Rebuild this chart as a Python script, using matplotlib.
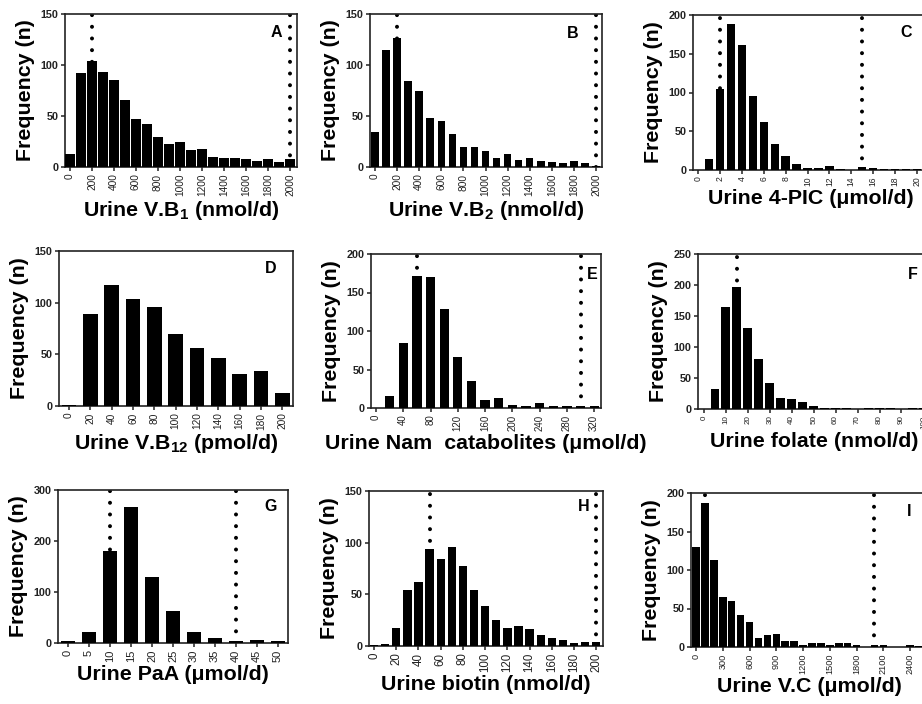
import matplotlib
matplotlib.use('Agg')
import matplotlib.pyplot as plt

plt.rcParams['font.family'] = ['Liberation Sans', 'DejaVu Sans']
plt.rcParams['mathtext.fontset'] = 'custom'
plt.rcParams['mathtext.rm'] = 'Liberation Sans'
plt.rcParams['mathtext.bf'] = 'Liberation Sans:bold'
plt.rcParams['mathtext.it'] = 'Liberation Sans:italic'

# ---------------- data ----------------
a_bins = [0, 100, 200, 300, 400, 500, 600, 700, 800, 900, 1000, 1100, 1200, 1300, 1400, 1500, 1600, 1700, 1800, 1900, 2000]
a_counts = [13, 92, 104, 93, 85, 66, 47, 42, 29, 23, 25, 17, 18, 10, 9, 9, 8, 6, 8, 5, 8]
a_ticks = [0, 200, 400, 600, 800, 1000, 1200, 1400, 1600, 1800, 2000]

b_bins = a_bins
b_counts = [34, 115, 126, 84, 75, 48, 45, 32, 20, 20, 16, 9, 13, 7, 9, 6, 5, 4, 6, 4, 1]
b_ticks = a_ticks

c_bins = [0, 1, 2, 3, 4, 5, 6, 7, 8, 9, 10, 11, 12, 13, 14, 15, 16, 17, 18, 19, 20]
c_counts = [0, 14, 104, 189, 161, 95, 62, 33, 18, 8, 2, 3, 5, 1, 0, 4, 2, 1, 1, 1, 1]
c_ticks = [0, 2, 4, 6, 8, 10, 12, 14, 16, 18, 20]

d_bins = [0, 20, 40, 60, 80, 100, 120, 140, 160, 180, 200]
d_counts = [1, 89, 117, 104, 96, 70, 56, 46, 31, 34, 13]
d_ticks = d_bins

e_bins = [0, 20, 40, 60, 80, 100, 120, 140, 160, 180, 200, 220, 240, 260, 280, 300, 320]
e_counts = [0, 16, 84, 171, 170, 129, 66, 35, 10, 13, 4, 3, 6, 3, 2, 2, 3]
e_ticks = [0, 40, 80, 120, 160, 200, 240, 280, 320]

f_bins = [0, 5, 10, 15, 20, 25, 30, 35, 40, 45, 50, 55, 60, 65, 70, 75, 80, 85, 90, 95, 100]
f_counts = [0, 32, 165, 196, 130, 81, 42, 18, 16, 11, 5, 1, 1, 1, 0, 1, 1, 1, 0, 1, 1]
f_ticks = [0, 10, 20, 30, 40, 50, 60, 70, 80, 90, 100]

g_bins = [0, 5, 10, 15, 20, 25, 30, 35, 40, 45, 50]
g_counts = [3, 22, 180, 267, 129, 62, 22, 9, 3, 5, 3]
g_ticks = g_bins

h_bins = [0, 10, 20, 30, 40, 50, 60, 70, 80, 90, 100, 110, 120, 130, 140, 150, 160, 170, 180, 190, 200]
h_counts = [1, 2, 17, 54, 62, 94, 84, 96, 77, 54, 39, 25, 17, 19, 16, 11, 8, 6, 3, 4, 4]
h_ticks = [0, 20, 40, 60, 80, 100, 120, 140, 160, 180, 200]

i_bins = [0, 100, 200, 300, 400, 500, 600, 700, 800, 900, 1000, 1100, 1200, 1300, 1400, 1500, 1600, 1700, 1800, 1900, 2000, 2100, 2200, 2300, 2400, 2500]
i_counts = [130, 187, 113, 65, 60, 42, 32, 12, 16, 17, 8, 8, 2, 5, 5, 3, 5, 5, 3, 0, 2, 2, 0, 0, 2, 1]
i_ticks = [0, 300, 600, 900, 1200, 1500, 1800, 2100, 2400]

letters = ['A', 'B', 'C', 'D', 'E', 'F', 'G', 'H', 'I']
xlabels = [r'Urine V.B$_\mathbf{1}$ (nmol/d)',
           r'Urine V.B$_\mathbf{2}$ (nmol/d)',
           'Urine 4-PIC (\u03bcmol/d)',
           r'Urine V.B$_\mathbf{12}$ (pmol/d)',
           'Urine Nam  catabolites (\u03bcmol/d)',
           'Urine folate (nmol/d)',
           'Urine PaA (\u03bcmol/d)',
           'Urine biotin (nmol/d)',
           'Urine V.C (\u03bcmol/d)']
cutoffs = [[200, 2000], [200, 2000], [2, 15], [], [60, 300], [15, 100], [10, 40], [50, 200], [100, 2000]]

# ---------------- layout (pixels) ----------------
W, H = 922, 704
panels = [
    # bins, counts, ticks, step, bar fraction, (left, top, right, bottom px), xlim, ymax, ystep, xtick fs, letter pos
    (a_bins, a_counts, a_ticks, 100, 0.86, (65, 14, 297, 167), (-45, 2064), 150, 50, 7.3, (0.935, 0.88)),
    (b_bins, b_counts, b_ticks, 100, 0.68, (370, 14, 602, 167), (-45, 2054), 150, 50, 7.3, (0.897, 0.875)),
    (c_bins, c_counts, c_ticks, 1, 0.76, (693, 15, 928, 170), (-0.46, 21.0), 200, 50, 6.2, (0.93, 0.89)),
    (d_bins, d_counts, d_ticks, 20, 0.68, (59, 251, 293, 406), (-9.4, 210), 150, 50, 7.3, (0.93, 0.884)),
    (e_bins, e_counts, e_ticks, 20, 0.68, (371, 254, 601, 408), (-7.3, 330), 200, 50, 7.0, (0.985, 0.864)),
    (f_bins, f_counts, f_ticks, 5, 0.8, (698, 254, 930, 409), (-2.7, 103), 250, 50, 5.8, (0.948, 0.865)),
    (g_bins, g_counts, g_ticks, 5, 0.68, (58, 490, 288, 643), (-2.4, 52.4), 300, 100, 8.0, (0.952, 0.89)),
    (h_bins, h_counts, h_ticks, 10, 0.75, (369, 491, 603, 646), (-4.5, 206), 150, 50, 8.3, (0.944, 0.9)),
    (i_bins, i_counts, i_ticks, 100, 0.85, (691, 493, 928, 647), (-56, 2600), 200, 50, 6.6, (0.93, 0.88)),
]

fig = plt.figure(figsize=(W / 100, H / 100), dpi=100)
fig.patch.set_facecolor('white')

for k, (bins, counts, ticks, step, frac, box, xlim, ymax, ystep, xfs, lpos) in enumerate(panels):
    l, t, r, b = box
    ax = fig.add_axes([l / W, 1 - b / H, (r - l) / W, (b - t) / H])
    ax.bar(bins, counts, width=step * frac, color='black', edgecolor='none', zorder=3)
    for c in cutoffs[k]:
        ax.axvline(c, 0, 1, color='black', lw=2.9, linestyle=(0, (0.001, 2.9)),
                   dash_capstyle='round', zorder=2)
    ax.set_xlim(*xlim)
    ax.set_ylim(0, ymax)
    ax.set_yticks(list(range(0, ymax + 1, ystep)))
    ax.set_xticks(ticks)
    ax.set_xticklabels([str(v) for v in ticks], rotation=90, fontsize=xfs, color='#222222')
    for lab in ax.get_yticklabels():
        lab.set_fontsize(7.8)
        lab.set_fontweight('bold')
        lab.set_color('#222222')
    ax.tick_params(axis='both', direction='out', length=3.2, width=1.1, pad=1.5, color='#222222')
    for s in ax.spines.values():
        s.set_linewidth(1.2)
        s.set_color('#222222')
    ax.set_xlabel(xlabels[k], fontsize=15.4, fontweight='bold', labelpad=2)
    ax.set_ylabel('Frequency (n)', fontsize=15.4, fontweight='bold', labelpad=4)
    ax.text(lpos[0], lpos[1], letters[k], transform=ax.transAxes, ha='right', va='center',
            fontsize=11.5, fontweight='bold')

fig.savefig('out.png', dpi=100, facecolor='white')
